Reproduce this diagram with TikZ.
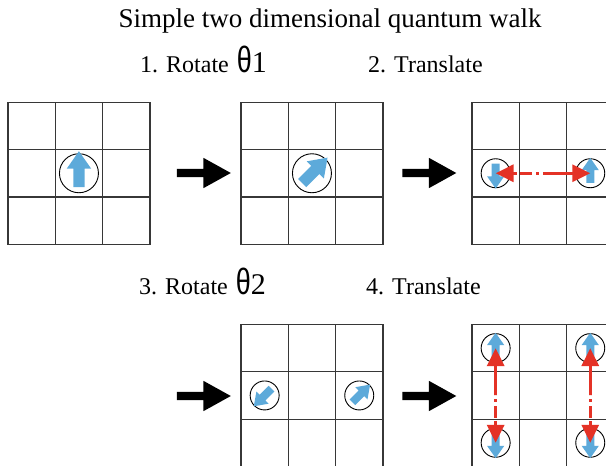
\documentclass[tikz,border=0pt]{standalone}
\usepackage{fontspec}
\usepackage{graphicx}
\setmainfont{Liberation Serif}
\newfontfamily\thetafont{Liberation Sans}
\usetikzlibrary{shapes.arrows,arrows.meta,calc}
\definecolor{spincolor}{RGB}{93,170,218}
\definecolor{hopcolor}{RGB}{228,50,38}
\definecolor{gridcolor}{RGB}{55,55,55}
\tikzset{
    cell/.style={
        rectangle,
        draw=gridcolor,
        line width=1.2pt,
        minimum size=47.3pt,
        inner sep=0pt
    },
    site/.style={circle, draw=black, line width=0.9pt, minimum size=39pt, inner sep=0pt},
    halfsite/.style={site, minimum size=29pt},
    spin/.style={
        single arrow,
        fill=spincolor,
        inner sep=0pt,
        inner ysep=5.5pt,
        minimum height=36pt,
        minimum width=24pt,
        single arrow head extend=6.5pt,
        single arrow tip angle=70
    },
    halfspin/.style={spin, inner ysep=3.8pt, minimum height=25pt, minimum width=17pt, single arrow head extend=4.6pt},
    stepper/.style={
        single arrow,
        fill=black,
        inner sep=0pt,
        inner ysep=4pt,
        minimum height=54pt,
        minimum width=30pt,
        single arrow head extend=11pt,
        single arrow tip angle=58
    },
    hopline/.style={draw=hopcolor, line width=3.3pt, -{Triangle[length=18pt,width=17pt]}},
    hopdash/.style={hopline, dash pattern=on 0.01pt off 4pt on 3pt off 4pt on 8pt},
    steplabel/.style={anchor=base west, inner sep=0pt, font=\fontsize{24}{28}\selectfont}
}
\newcommand{\bigth}[1]{{\fontsize{30}{32}\selectfont\hspace{2pt}\scalebox{0.9}[1.22]{\thetafont θ}#1}}

\begin{document}
\begin{tikzpicture}[x=1pt, y=-1pt]
    \useasboundingbox (0,0) rectangle (606,466);
    \clip (0,0) rectangle (606,466);

    % Title and step labels
    \node[anchor=base, inner sep=0pt, font=\fontsize{27}{32}\selectfont] (title) at (330,27)
          {Simple two dimensional quantum walk};
    \node[steplabel] (lab1) at (140,72) {1. Rotate \bigth{1}};
    \node[steplabel] (lab2) at (368,72) {2. Translate};
    \node[steplabel] (lab3) at (139,294) {3. Rotate \bigth{2}};
    \node[steplabel] (lab4) at (366,294) {4. Translate};

    % 3x3 lattices
    \foreach \g/\gx/\gy in {a/8/102.3, b/241/102.3, c/472/102.3, d/241/324.5, e/472/324.5}
        \foreach \i in {0,1,2}
            \foreach \j in {0,1,2}
                \node[cell] (\g-\i-\j) at ({\gx+23.65+47.3*\i},{\gy+23.65+47.3*\j}) {};

    % Steps between lattices
    \node[stepper] (turn1) at (200,173) {};
    \node[stepper] (move1) at (425.5,173) {};
    \node[stepper] (turn2) at (200,396) {};
    \node[stepper] (move2) at (425.5,396) {};

    % Coin states
    \node[site] (a-s) at (a-1-1) {};
    \node[spin, rotate=90] (a-up) at (a-1-1) {};

    \node[site] (b-s) at (b-1-1) {};
    \node[spin, rotate=45] (b-ur) at (b-1-1) {};

    \node[halfsite] (c-sl) at (c-0-1) {};
    \node[halfspin, rotate=-90] (c-dn) at (c-0-1) {};
    \node[halfsite] (c-sr) at (c-2-1) {};
    \node[halfspin, rotate=90] (c-up) at (c-2-1) {};

    \node[halfsite] (d-sl) at (d-0-1) {};
    \node[halfspin, rotate=225] (d-dl) at (d-0-1) {};
    \node[halfsite] (d-sr) at (d-2-1) {};
    \node[halfspin, rotate=45] (d-ur) at (d-2-1) {};

    \node[halfsite] (e-s00) at (e-0-0) {};
    \node[halfspin, rotate=90] (e-up0) at (e-0-0) {};
    \node[halfsite] (e-s20) at (e-2-0) {};
    \node[halfspin, rotate=90] (e-up2) at (e-2-0) {};
    \node[halfsite] (e-s02) at (e-0-2) {};
    \node[halfspin, rotate=-90] (e-dn0) at (e-0-2) {};
    \node[halfsite] (e-s22) at (e-2-2) {};
    \node[halfspin, rotate=-90] (e-dn2) at (e-2-2) {};

    % Translations
    \draw[hopline] (c-1-1.center) -- (c-sr.center);
    \draw[hopdash] (c-1-1.center) -- (c-sl.center);
    \draw[hopline] (e-0-1.center) -- (e-s00.center);
    \draw[hopdash] (e-0-1.center) -- (e-s02.center);
    \draw[hopline] (e-2-1.center) -- (e-s20.center);
    \draw[hopdash] (e-2-1.center) -- (e-s22.center);
\end{tikzpicture}
\end{document}
